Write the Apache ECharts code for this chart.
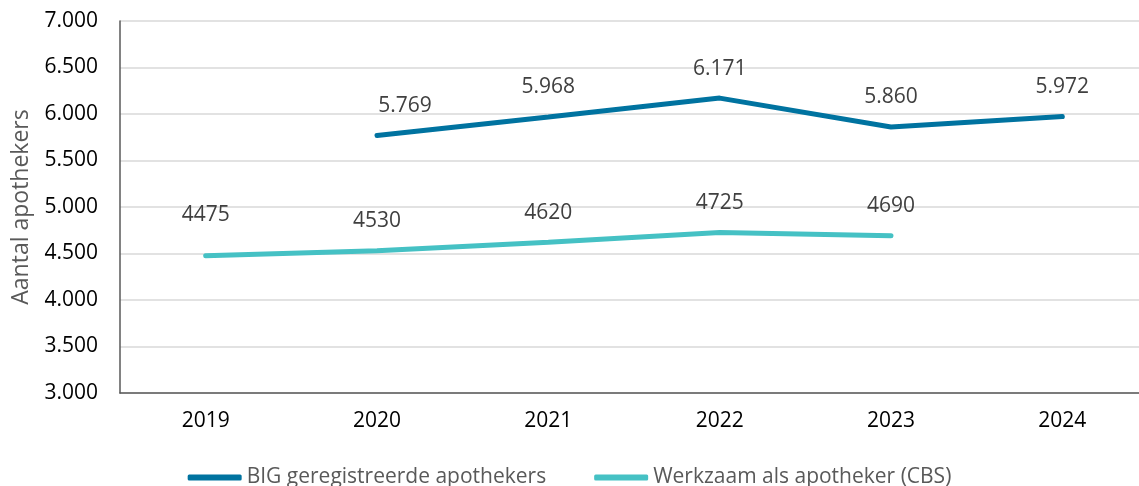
<!DOCTYPE html>
<html>
<head>
<meta charset="utf-8">
<script src="https://cdn.jsdelivr.net/npm/echarts@6/dist/echarts.min.js"></script>
<style>
  html, body { margin: 0; padding: 0; background: #fff; }
  #chart { width: 1139px; height: 486px; }
</style>
</head>
<body>
<div id="chart"></div>
<script>
// data
const years = ['2019', '2020', '2021', '2022', '2023', '2024']
const bigRegistered = [null, 5769, 5968, 6171, 5860, 5972]
const cbsWorking = [4475, 4530, 4620, 4725, 4690, null]
const seriesNames = ['BIG geregistreerde apothekers', 'Werkzaam als apotheker (CBS)']

const dutch = (v) => String(v).replace(/\B(?=(\d{3})+(?!\d))/g, '.')

const chart = echarts.init(document.getElementById('chart'))

// Excel placed a couple of labels slightly off
const bigData = bigRegistered.map((v, i) =>
  i === 1 ? { value: v, label: { offset: [28, 0] } } : v)
const cbsData = cbsWorking.map((v, i) =>
  i === 0 ? { value: v, label: { offset: [0, -11] } } : v)

chart.setOption({
  animation: false,
  textStyle: { fontFamily: 'Open Sans' },
  // plot area runs past the right edge, as in the original
  grid: { left: 120, top: 21, width: 1028, height: 372, outerBoundsMode: 'none' },
  legend: {
    bottom: -7,
    left: 'center',
    itemWidth: 54,
    itemHeight: 6,
    itemGap: 48,
    icon: 'roundRect',
    textStyle: { color: '#595959', fontSize: 21, fontFamily: 'Open Sans' },
    data: seriesNames
  },
  xAxis: {
    type: 'category',
    data: years,
    axisLine: { lineStyle: { color: '#595959', width: 1.5 } },
    axisTick: { show: false },
    axisLabel: { color: '#000', fontSize: 21, margin: 18 }
  },
  yAxis: {
    type: 'value',
    min: 3000,
    max: 7000,
    interval: 500,
    name: 'Aantal apothekers',
    nameLocation: 'middle',
    nameGap: 87,
    nameTextStyle: { color: '#595959', fontSize: 23 },
    axisLine: { show: true, lineStyle: { color: '#595959', width: 1.5 } },
    axisTick: { show: false },
    axisLabel: { color: '#000', fontSize: 21, margin: 22, formatter: dutch },
    splitLine: { lineStyle: { color: '#d9d9d9', width: 1.5 } }
  },
  series: [
    {
      name: seriesNames[0],
      type: 'line',
      data: bigData,
      symbol: 'circle',
      symbolSize: 0.1,
      color: '#0073a0',
      lineStyle: { width: 5, color: '#0073a0', cap: 'round' },
      label: {
        show: true,
        position: 'top',
        distance: 19,
        color: '#404040',
        fontSize: 21,
        formatter: (p) => dutch(p.value)
      }
    },
    {
      name: seriesNames[1],
      type: 'line',
      data: cbsData,
      symbol: 'circle',
      symbolSize: 0.1,
      color: '#45c1c4',
      lineStyle: { width: 5, color: '#45c1c4', cap: 'round' },
      label: {
        show: true,
        position: 'top',
        distance: 19,
        color: '#404040',
        fontSize: 21
      }
    }
  ]
})
</script>
</body>
</html>
